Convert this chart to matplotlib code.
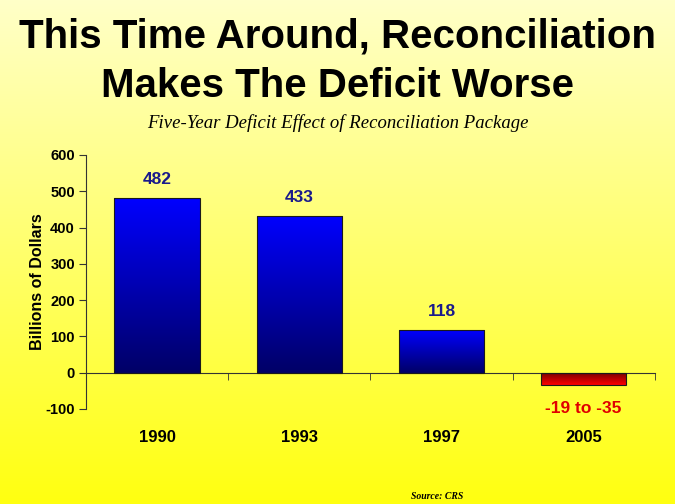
import numpy as np
import matplotlib.pyplot as plt
from matplotlib.colors import LinearSegmentedColormap

years = ["1990", "1993", "1997", "2005"]
values = [482, 433, 118, -35]
value_labels = ["482", "433", "118", "-19 to -35"]
label_colors = ["#1a1a8c", "#1a1a8c", "#1a1a8c", "#e00000"]

plt.rcParams['font.family'] = ['Liberation Sans', 'DejaVu Sans']
plt.rcParams['axes.unicode_minus'] = False

fig = plt.figure(figsize=(6.75, 5.04), dpi=100)

# yellow background gradient
bg = fig.add_axes([0, 0, 1, 1], zorder=0)
bg_cmap = LinearSegmentedColormap.from_list("bg", ["#ffffc8", "#ffff10"])
bg.imshow(np.linspace(0, 1, 256).reshape(-1, 1), aspect="auto", cmap=bg_cmap,
          extent=[0, 1, 0, 1])
bg.set_axis_off()

ax = fig.add_axes([0.1274, 0.1885, 0.8426, 0.504], zorder=1)
ax.patch.set_alpha(0)
x = np.arange(1, len(years) + 1)

blue = LinearSegmentedColormap.from_list("blue", ["#000066", "#0000ff"])
red = LinearSegmentedColormap.from_list("red", ["#700000", "#ff0000"])

bars = ax.bar(x, values, width=0.6, edgecolor="#1a1a1a", linewidth=0.8,
              facecolor="none", zorder=3)
for b, v in zip(bars, values):
    x0, w = b.get_x(), b.get_width()
    grad = np.linspace(0, 1, 256).reshape(-1, 1)
    if v < 0:
        im = ax.imshow(grad, aspect="auto", cmap=red, origin="upper",
                       extent=[x0, x0 + w, v, 0], zorder=2)
    else:
        im = ax.imshow(grad, aspect="auto", cmap=blue, origin="lower",
                       extent=[x0, x0 + w, 0, v], zorder=2)
    im.set_clip_path(b)

ax.set_xlim(0.5, 4.5)
ax.set_ylim(-100, 600)

for xi, v, lab, c in zip(x, values, value_labels, label_colors):
    if v >= 0:
        ax.text(xi, v + 50, lab, ha="center", va="center", color=c,
                fontsize=12.5, fontweight="bold")
    else:
        ax.text(xi, v - 65, lab, ha="center", va="center", color=c,
                fontsize=12.5, fontweight="bold")

for s in ["top", "right"]:
    ax.spines[s].set_visible(False)
ax.spines["bottom"].set_position(("data", 0))
ax.spines["bottom"].set_color("#333333")
ax.spines["left"].set_color("#333333")

ax.set_yticks(range(-100, 601, 100))
ax.tick_params(axis="y", labelsize=10.5, length=5, color="#333333", pad=3)
for t in ax.get_yticklabels():
    t.set_fontweight("bold")

ax.set_xticks(x)
ax.set_xticklabels(years, fontsize=12, fontweight="bold")
ax.tick_params(axis="x", length=0, pad=41)
ax.set_xticks([1.5, 2.5, 3.5, 4.5], minor=True)
ax.tick_params(axis="x", which="minor", length=5, direction="out", color="#333333")

ax.set_ylabel("Billions of Dollars", fontsize=11.5, fontweight="bold", labelpad=0)

fig.text(0.5, 0.9067, "This Time Around, Reconciliation", ha="center", va="baseline",
         fontsize=29, fontweight="bold")
fig.text(0.5, 0.8075, "Makes The Deficit Worse", ha="center", va="baseline",
         fontsize=29, fontweight="bold")
fig.text(0.5, 0.746, "Five-Year Deficit Effect of Reconciliation Package",
         ha="center", va="baseline", fontsize=13.5, style="italic",
         family="Liberation Serif")
fig.text(0.648, 0.014, "Source: CRS", ha="center", va="center", fontsize=7,
         style="italic", fontweight="bold", family="Liberation Serif")

fig.savefig("out.png", dpi=100)
